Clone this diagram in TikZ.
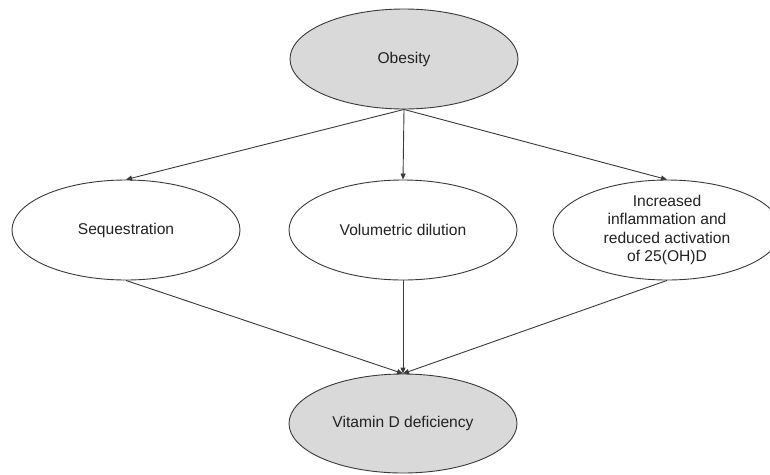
\documentclass[tikz,border=0pt]{standalone}
\usepackage{fontspec}
\setmainfont{Liberation Sans}
\usetikzlibrary{shapes.geometric,arrows.meta}
\definecolor{edgec}{HTML}{3A3A3A}
\definecolor{fillc}{HTML}{D9D9D9}
\definecolor{textc}{HTML}{222222}
\tikzset{
  oval/.style={ellipse, draw=edgec, line width=0.9pt, minimum width=228pt, minimum height=100pt,
    inner sep=0pt, align=center, text=textc,
    font=\fontsize{15.6pt}{18.3pt}\selectfont},
  shaded/.style={oval, fill=fillc},
  plain/.style={oval, fill=white},
  link/.style={draw=edgec, line width=0.9pt, -{Triangle[length=6pt,width=5pt]}}
}
\begin{document}
\begin{tikzpicture}[x=1pt,y=-1pt]
\clip (0,0) rectangle (770,474);
\useasboundingbox (0,0) rectangle (770,474);
\fill[white] (0,0) rectangle (770,474);
\node[shaded] (ob) at (404,59) {Obesity};
\node[plain] (seq) at (126,230) {Sequestration};
\node[plain] (vol) at (403,230) {Volumetric dilution};
\node[plain] (inf) at (667,230) {Increased\\inflammation and\\reduced activation\\of 25(OH)D};
\node[shaded, minimum height=99pt] (vit) at (403,423.5) {Vitamin D deficiency};
\draw[link] (ob.south) -- (seq.north);
\draw[link] (ob.south) -- (vol.north);
\draw[link] (ob.south) -- (inf.north);
\draw[link] (seq.south) -- (vit.north);
\draw[link] (vol.south) -- (vit.north);
\draw[link] (inf.south) -- (vit.north);
\end{tikzpicture}
\end{document}
